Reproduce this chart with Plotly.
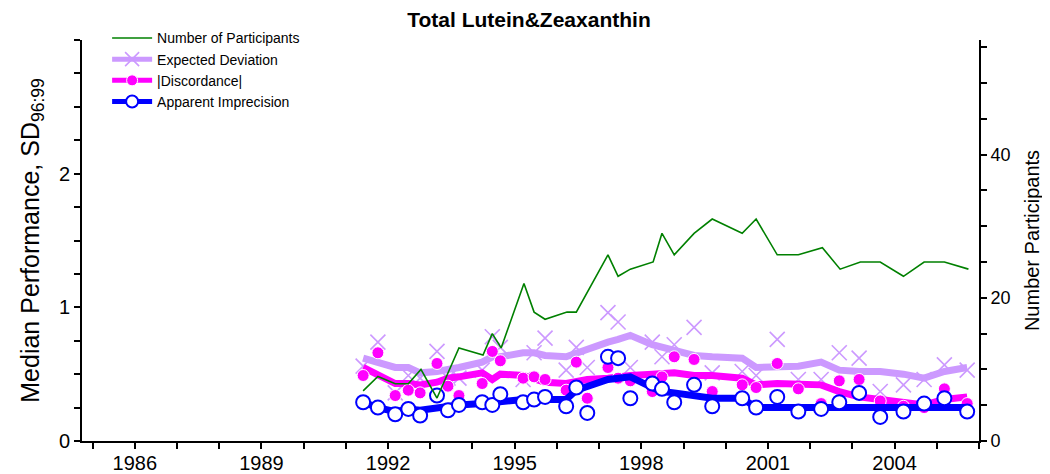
import plotly.graph_objects as go

# ---- data ----
years = [1991.41, 1991.76, 1992.17, 1992.48, 1992.76, 1993.16, 1993.42, 1993.68,
         1994.23, 1994.47, 1994.66, 1995.20, 1995.46, 1995.72, 1996.22, 1996.46,
         1996.72, 1997.21, 1997.45, 1997.74, 1998.26, 1998.49, 1998.78, 1999.25,
         1999.68, 2000.39, 2000.72, 2001.22, 2001.72, 2002.26, 2002.69, 2003.16,
         2003.66, 2004.21, 2004.70, 2005.18, 2005.72]

expected_pts = [0.56, 0.74, 0.36, 0.49, 0.47, 0.67, 0.47, 0.47,
                0.53, 0.78, 0.70, 0.46, 0.66, 0.77, 0.53, 0.70,
                0.55, 0.96, 0.89, 0.55, 0.74, 0.63, 0.72, 0.85,
                0.51, 0.52, 0.49, 0.76, 0.46, 0.46, 0.66, 0.62,
                0.37, 0.42, 0.46, 0.57, 0.53]
expected_trend = [0.62, 0.59, 0.55, 0.55, 0.51, 0.52, 0.53, 0.55,
                  0.59, 0.63, 0.63, 0.66, 0.66, 0.64, 0.63, 0.66,
                  0.68, 0.74, 0.76, 0.79, 0.72, 0.70, 0.68, 0.64,
                  0.63, 0.62, 0.55, 0.55, 0.56, 0.59, 0.53, 0.52,
                  0.52, 0.50, 0.47, 0.52, 0.55]

discord_pts = [0.49, 0.66, 0.34, 0.38, 0.36, 0.58, 0.41, 0.34,
               0.43, 0.67, 0.60, 0.47, 0.48, 0.46, 0.38, 0.59,
               0.32, 0.55, 0.47, 0.45, 0.37, 0.48, 0.63, 0.61,
               0.37, 0.42, 0.40, 0.58, 0.39, 0.28, 0.45, 0.46,
               0.30, 0.26, 0.25, 0.39, 0.28]
discord_trend = [0.55, 0.49, 0.43, 0.43, 0.42, 0.44, 0.47, 0.48,
                 0.51, 0.46, 0.50, 0.49, 0.47, 0.44, 0.43, 0.45,
                 0.46, 0.47, 0.48, 0.49, 0.50, 0.51, 0.51, 0.49,
                 0.49, 0.47, 0.42, 0.43, 0.43, 0.42, 0.37, 0.33,
                 0.31, 0.29, 0.27, 0.31, 0.33]

imprec_pts = [0.29, 0.25, 0.20, 0.24, 0.19, 0.34, 0.23, 0.27,
              0.29, 0.27, 0.35, 0.29, 0.31, 0.33, 0.26, 0.40,
              0.21, 0.63, 0.62, 0.32, 0.43, 0.39, 0.29, 0.42,
              0.26, 0.32, 0.25, 0.33, 0.22, 0.24, 0.29, 0.36,
              0.18, 0.22, 0.28, 0.32, 0.22]
imprec_trend = [0.29, 0.25, 0.22, 0.24, 0.23, 0.25, 0.26, 0.27,
                0.28, 0.29, 0.30, 0.31, 0.31, 0.31, 0.31, 0.38,
                0.41, 0.46, 0.47, 0.48, 0.40, 0.37, 0.36, 0.34,
                0.32, 0.32, 0.25, 0.25, 0.25, 0.26, 0.25, 0.25,
                0.25, 0.25, 0.25, 0.25, 0.25]

part_years = [1991.41, 1991.76, 1992.17, 1992.48, 1992.78, 1993.16, 1993.68,
              1994.25, 1994.47, 1994.68, 1995.22, 1995.46, 1995.72, 1996.24,
              1996.46, 1997.21, 1997.45, 1997.74, 1998.28, 1998.49, 1998.78,
              1999.25, 1999.68, 2000.39, 2000.72, 2001.22, 2001.72, 2002.29,
              2002.71, 2003.19, 2003.66, 2004.21, 2004.70, 2005.18, 2005.75]
participants = [7, 9, 8, 8, 10, 6, 13, 12, 15, 13, 22, 18, 17, 18, 18, 26, 23, 24,
                25, 29, 26, 29, 31, 29, 31, 26, 26, 27, 24, 25, 25, 23, 25, 25, 24]

title_text = "Total Lutein&Zeaxanthin"
x_ticks = [1986, 1989, 1992, 1995, 1998, 2001, 2004]

# ---- styles ----
PURPLE = "#CC99FF"
PINK = "#FF00FF"
BLUE = "#0000FF"
GREEN = "#008000"
FONT = "Liberation Sans, Arial, sans-serif"

fig = go.Figure()

fig.add_trace(go.Scatter(x=years, y=expected_trend, mode="lines",
                         line=dict(color=PURPLE, width=7), showlegend=False))
fig.add_trace(go.Scatter(x=years, y=expected_pts, mode="markers",
                         marker=dict(symbol="x-thin-open", size=15, color=PURPLE,
                                     line=dict(color=PURPLE, width=1.6)),
                         showlegend=False))
fig.add_trace(go.Scatter(x=years, y=discord_trend, mode="lines",
                         line=dict(color=PINK, width=7), showlegend=False))
fig.add_trace(go.Scatter(x=years, y=discord_pts, mode="markers",
                         marker=dict(symbol="circle", size=12, color=PINK,
                                     line=dict(color="white", width=1)),
                         showlegend=False))
fig.add_trace(go.Scatter(x=years, y=imprec_trend, mode="lines",
                         line=dict(color=BLUE, width=7), showlegend=False))
fig.add_trace(go.Scatter(x=years, y=imprec_pts, mode="markers",
                         marker=dict(symbol="circle", size=14, color="white",
                                     line=dict(color=BLUE, width=2)),
                         showlegend=False))

fig.add_trace(go.Scatter(x=part_years, y=participants, mode="lines", yaxis="y2",
                         line=dict(color=GREEN, width=1.6), showlegend=False))

# legend-only entries
fig.add_trace(go.Scatter(x=[None], y=[None], mode="lines", name="Number of Participants",
                         line=dict(color=GREEN, width=1.6)))
fig.add_trace(go.Scatter(x=[None], y=[None], mode="lines+markers", name="Expected Deviation",
                         line=dict(color=PURPLE, width=5),
                         marker=dict(symbol="x-thin-open", size=14, color=PURPLE,
                                     line=dict(color=PURPLE, width=1.6))))
fig.add_trace(go.Scatter(x=[None], y=[None], mode="lines+markers", name="|Discordance|",
                         line=dict(color=PINK, width=5),
                         marker=dict(symbol="circle", size=11, color=PINK,
                                     line=dict(color="white", width=1))))
fig.add_trace(go.Scatter(x=[None], y=[None], mode="lines+markers", name="Apparent Imprecision",
                         line=dict(color=BLUE, width=5),
                         marker=dict(symbol="circle", size=12, color="white",
                                     line=dict(color=BLUE, width=2))))

tick_common = dict(ticks="outside", ticklen=6, tickwidth=2, tickcolor="black",
                   showline=True, linecolor="black", linewidth=2,
                   showgrid=False, zeroline=False, automargin=False)

fig.update_layout(
    width=1042, height=466,
    margin=dict(l=74, r=71, t=32, b=33),
    paper_bgcolor="white", plot_bgcolor="white",
    font=dict(family=FONT, color="black"),
    title=dict(text="<b>" + title_text + "</b>", x=0.5, xanchor="center",
               y=0.99, yanchor="top", font=dict(size=21, color="black")),
    xaxis=dict(range=[1984.75, 2006], tickmode="array", tickvals=x_ticks,
               ticktext=[str(v) for v in x_ticks],
               minor=dict(dtick=1, tick0=1985, ticks="outside", ticklen=6,
                          tickwidth=2, tickcolor="black"),
               tickfont=dict(size=20), ticklabelstandoff=-3, **tick_common),
    yaxis=dict(range=[0, 3], tickmode="array", tickvals=[0, 1, 2],
               minor=dict(dtick=0.25, tick0=0, ticks="outside", ticklen=6,
                          tickwidth=2, tickcolor="black"),
               tickfont=dict(size=20),
               title=dict(text="Median Performance, SD<sub>96:99</sub>",
                          font=dict(size=25), standoff=12),
               **tick_common),
    yaxis2=dict(range=[0, 56], overlaying="y", side="right",
                tickmode="array", tickvals=[0, 20, 40],
                minor=dict(dtick=5, tick0=0, ticks="outside", ticklen=6,
                           tickwidth=2, tickcolor="black"),
                tickfont=dict(size=18),
                title=dict(text="Number Participants", font=dict(size=20), standoff=15),
                **tick_common),
    legend=dict(x=0.028, y=1.044, xanchor="left", yanchor="top",
                bgcolor="rgba(0,0,0,0)", font=dict(size=14),
                traceorder="normal", tracegroupgap=0, itemwidth=40),
)

fig.write_html("out.html")
